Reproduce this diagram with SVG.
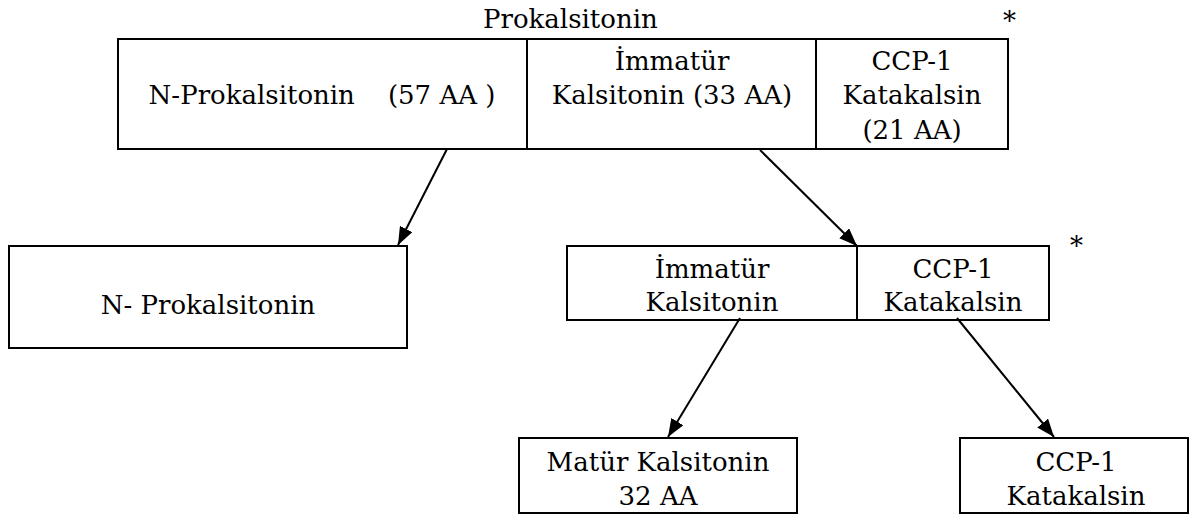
<svg xmlns="http://www.w3.org/2000/svg" width="1199" height="517" viewBox="0 0 1199 517">
<style>
  .box { fill: #fff; stroke: #000; stroke-width: 2; }
  .div { stroke: #000; stroke-width: 2; fill: none; }
  text { font-family: "DejaVu Serif", serif; font-size: 26px; fill: #000; }
  .t { text-anchor: middle; }
  .conn { stroke: #000; stroke-width: 2; fill: none; marker-end: url(#arr); }
</style>
<defs>
  <marker id="arr" viewBox="0 0 18 14" refX="18" refY="7" markerWidth="18" markerHeight="14" markerUnits="userSpaceOnUse" orient="auto">
    <path d="M0,0 L18,7 L0,14 Z" fill="#000"/>
  </marker>
</defs>
<rect width="1199" height="517" fill="#fff"/>

<g id="title">
  <text x="483" y="28">Prokalsitonin</text>
  <text x="1003" y="30">*</text>
  <text x="1070" y="255">*</text>
</g>

<g id="prokalsitonin">
  <rect class="box" x="118" y="39" width="890" height="110"/>
  <line class="div" x1="527" y1="39" x2="527" y2="149"/>
  <line class="div" x1="816" y1="39" x2="816" y2="149"/>
  <text class="t" x="322" y="104" xml:space="preserve">N-Prokalsitonin    (57 AA )</text>
  <text class="t" x="672" y="70">İmmatür</text>
  <text class="t" x="672" y="104">Kalsitonin (33 AA)</text>
  <text class="t" x="912" y="70">CCP-1</text>
  <text class="t" x="912" y="104">Katakalsin</text>
  <text class="t" x="912" y="139">(21 AA)</text>
</g>

<g id="n-prokalsitonin">
  <rect class="box" x="9" y="246" width="398" height="102"/>
  <text class="t" x="208" y="314">N- Prokalsitonin</text>
</g>

<g id="immatur-ccp">
  <rect class="box" x="567" y="246" width="482" height="74"/>
  <line class="div" x1="857" y1="246" x2="857" y2="320"/>
  <text class="t" x="712" y="278">İmmatür</text>
  <text class="t" x="712" y="311">Kalsitonin</text>
  <text class="t" x="953" y="278">CCP-1</text>
  <text class="t" x="953" y="311">Katakalsin</text>
</g>

<g id="matur">
  <rect class="box" x="519" y="438" width="278" height="75"/>
  <text class="t" x="658" y="471">Matür Kalsitonin</text>
  <text class="t" x="658" y="505">32 AA</text>
</g>

<g id="ccp1">
  <rect class="box" x="960" y="438" width="228" height="75"/>
  <text class="t" x="1076" y="471">CCP-1</text>
  <text class="t" x="1076" y="505">Katakalsin</text>
</g>

<g id="connectors">
  <line class="conn" x1="447" y1="149" x2="398" y2="245"/>
  <line class="conn" x1="760" y1="150" x2="857" y2="246"/>
  <line class="conn" x1="740" y1="318" x2="668" y2="437"/>
  <line class="conn" x1="957" y1="318" x2="1054" y2="437"/>
</g>
</svg>
